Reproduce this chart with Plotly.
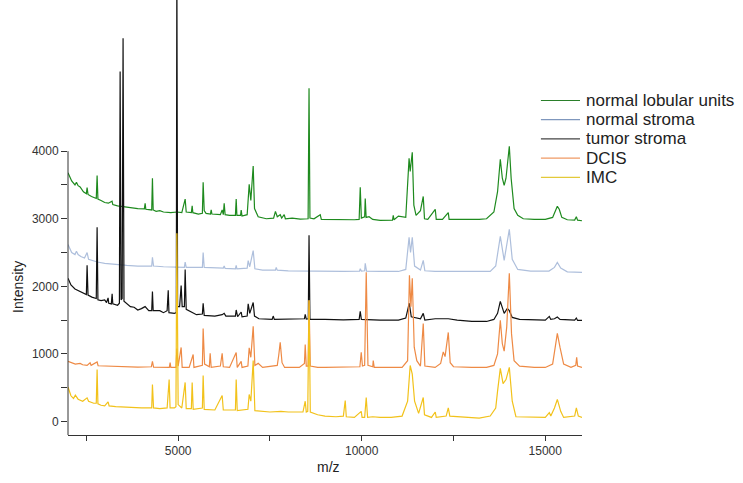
import plotly.graph_objects as go

series_names = ["normal lobular units", "normal stroma", "tumor stroma", "DCIS", "IMC"]
series_colors = ["#1e8a1e", "#aebfdc", "#111111", "#ee8a45", "#f2c21b"]
legend_colors = ["#2a7f2a", "#7f97bd", "#444444", "#ef9a64", "#e3c93a"]

lobular_mz = [2000, 2100, 2190, 2230, 2275, 2330, 2420, 2500, 2520, 2545, 2640, 2770, 2793, 2815, 2900,
              3000, 3100, 3200, 3220, 3350, 3500, 3700, 3900, 4080, 4101, 4120, 4280, 4300, 4320, 4400,
              4500, 4600, 4800, 4970, 5100, 5191, 5220, 5360, 5382, 5400, 5550, 5660, 5681, 5710, 5760,
              5880, 5900, 5920, 6150, 6199, 6230, 6254, 6280, 6400, 6560, 6581, 6600, 6700, 6717, 6740,
              6880, 6935, 6980, 7044, 7080, 7180, 7400, 7600, 7650, 7700, 7780, 7820, 7889, 7920, 8107,
              8325, 8540, 8565, 8590, 8700, 8870, 8900, 9200, 9500, 9800, 9930, 9960, 9990, 10080, 10096,
              10120, 10200, 10300, 10500, 10700, 10840, 10859, 10880, 11000, 11200, 11290, 11320, 11377,
              11420, 11480, 11540, 11600, 11676, 11710, 11800, 12003, 12030, 12200, 12358, 12380, 12600,
              12900, 13200, 13400, 13600, 13700, 13775, 13830, 13880, 13930, 14020, 14070, 14150, 14250,
              14400, 14700, 15000, 15200, 15280, 15328, 15380, 15450, 15600, 15800, 15846, 15880, 16000]
lobular_int = [3680, 3560, 3500, 3540, 3490, 3470, 3400, 3370, 3460, 3360, 3330, 3300, 3640, 3290, 3270,
               3240, 3230, 3260, 3210, 3190, 3180, 3160, 3150, 3145, 3230, 3140, 3130, 3600, 3130, 3110,
               3120, 3100, 3090, 3100, 3090, 3290, 3100, 3090, 3190, 3090, 3070, 3080, 3540, 3120, 3080,
               3070, 3130, 3070, 3060, 3130, 3060, 3230, 3060, 3050, 3050, 3290, 3050, 3050, 3130, 3040,
               3060, 3510, 3270, 3780, 3150, 3030, 3000, 3010, 3110, 3030, 3060, 3010, 3060, 3000, 3010,
               2995, 3000, 4930, 3010, 3000, 3060, 2990, 2985, 2985, 2985, 2990, 3466, 3010, 3030, 3300,
               3020, 3030, 2990, 2975, 2980, 2980, 3050, 2985, 3040, 3020, 3895, 3700, 3984,
               3200, 3050, 3080, 3120, 3330, 3000, 2990, 3140, 2990, 2990, 3090, 2990, 2990,
               2985, 2990, 3000, 3100, 3400, 3880, 3600, 3495, 3600, 4073, 3600, 3150, 3050,
               3000, 2990, 2990, 3020, 3140, 3184, 3140, 3020, 2985, 2980, 3030, 2980, 2970]

stroma_mz = [2000, 2100, 2190, 2230, 2275, 2350, 2450, 2520, 2560, 2700, 2800, 3000, 3300, 3600, 3900,
             4100, 4280, 4300, 4330, 4600, 4900, 5170, 5191, 5220, 5660, 5681, 5710, 6000, 6230, 6254,
             6280, 6560, 6581, 6600, 6700, 6880, 6908, 6950, 7044, 7090, 7300, 7650, 7671, 7700, 8000,
             8500, 9000, 9500, 9940, 9960, 9990, 10080, 10096, 10130, 10500, 11000, 11200, 11290, 11330,
             11377, 11440, 11600, 11676, 11720, 12000, 12500, 13000, 13500, 13650, 13775, 13880, 14020,
             14100, 14250, 14600, 15100, 15250, 15328, 15420, 15600, 16000]
stroma_int = [2620, 2500, 2470, 2520, 2470, 2440, 2420, 2500, 2400, 2370, 2360, 2340, 2320, 2310, 2300,
              2300, 2300, 2430, 2300, 2290, 2280, 2280, 2360, 2280, 2280, 2500, 2280, 2270, 2270, 2300,
              2265, 2260, 2310, 2260, 2260, 2270, 2380, 2290, 2530, 2260, 2240, 2240, 2280, 2240, 2230,
              2225, 2220, 2220, 2225, 2260, 2225, 2230, 2340, 2225, 2220, 2220, 2250, 2725, 2500,
              2725, 2300, 2240, 2384, 2230, 2220, 2220, 2215, 2220, 2300, 2740, 2384, 2843,
              2400, 2250, 2225, 2225, 2280, 2355, 2270, 2215, 2207]

tumor_mz = [2000, 2080, 2190, 2275, 2400, 2500, 2520, 2545, 2650, 2770, 2793, 2815, 2900, 3000, 3050,
            3092, 3110, 3180, 3202, 3220, 3350, 3400, 3420, 3445, 3475, 3500, 3525, 3600, 3700, 3800,
            3900, 4000, 4100, 4200, 4280, 4300, 4320, 4500, 4600, 4700, 4730, 4750, 4900, 4950, 4965,
            4985, 5040, 5082, 5110, 5170, 5191, 5220, 5350, 5500, 5660, 5681, 5710, 6000, 6199, 6254,
            6300, 6560, 6581, 6620, 6717, 6740, 6880, 6908, 6950, 7044, 7080, 7200, 7560, 7589, 7620,
            8000, 8440, 8461, 8490, 8545, 8565, 8590, 8800, 9000, 9500, 9930, 9960, 9990, 10500, 11000,
            11200, 11295, 11350, 11600, 11676, 11720, 12003, 12358, 12600, 13000, 13400, 13600, 13700,
            13775, 13880, 13966, 14020, 14100, 14300, 14700, 15000, 15110, 15150, 15250, 15328, 15400,
            15800, 15846, 15880, 16000]
tumor_int = [2120, 2020, 1960, 1940, 1900, 1880, 2310, 1870, 1840, 1820, 2873, 1800, 1790, 1800, 1760,
             1830, 1750, 1740, 1890, 1740, 1720, 1750, 5180, 1800, 1820, 5670, 1780, 1750, 1700, 1690,
             1650, 1670, 1700, 1640, 1640, 1925, 1640, 1640, 1610, 1640, 1940, 1610, 1600, 1610, 6800,
             1700, 1700, 2010, 1700, 1700, 2250, 1660, 1620, 1580, 1590, 1750, 1570, 1560, 1580, 1600,
             1560, 1560, 1650, 1550, 1620, 1550, 1560, 1740, 1600, 1760, 1560, 1520, 1510, 1560, 1510,
             1515, 1520, 1585, 1515, 1520, 2755, 1510, 1505, 1510, 1505, 1510, 1630, 1510, 1500, 1500,
             1530, 1750, 1550, 1520, 1600, 1500, 1520, 1520, 1500, 1480, 1480, 1510, 1600,
             1777, 1600, 1673, 1640, 1540, 1510, 1500, 1500, 1555, 1510, 1520, 1545, 1510,
             1500, 1530, 1495, 1495]

dcis_mz = [2000, 2100, 2200, 2330, 2400, 2520, 2602, 2630, 2793, 2820, 3000, 3300, 3600, 3900, 4270,
           4300, 4330, 4500, 4760, 4782, 4800, 4940, 4965, 5000, 5082, 5110, 5300, 5409, 5430, 5660,
           5681, 5720, 5850, 5872, 5900, 6150, 6199, 6230, 6400, 6581, 6610, 6717, 6740, 6900, 6935,
           6980, 7044, 7090, 7180, 7300, 7700, 7740, 7780, 7830, 7900, 8300, 8440, 8461, 8490, 8540,
           8565, 8600, 8800, 9000, 9300, 9600, 9950, 9987, 10020, 10080, 10123, 10170, 10300, 10314,
           10340, 10700, 11100, 11250, 11300, 11340, 11377, 11430, 11500, 11600, 11676, 11720, 12000,
           12150, 12221, 12270, 12358, 12410, 12500, 13000, 13400, 13600, 13700, 13775, 13830, 13880,
           13950, 14020, 14080, 14150, 14300, 14700, 15000, 15200, 15280, 15328, 15400, 15500, 15700,
           15830, 15855, 15880, 16000]
dcis_int = [890, 870, 850, 860, 840, 830, 870, 830, 880, 825, 820, 815, 810, 805, 810,
            890, 805, 800, 800, 870, 800, 800, 1080, 820, 1096, 800, 800, 992, 800, 830,
            1377, 850, 810, 1010, 800, 820, 1010, 810, 800, 1022, 800, 890, 800, 820, 1090,
            950, 1407, 830, 860, 800, 830, 980, 1170, 870, 800, 800, 860, 1140, 820, 820,
            1792, 820, 800, 800, 800, 800, 810, 1022, 820, 830, 2207, 830, 810, 900,
            800, 800, 800, 900, 2162, 1700, 2118, 1100, 900, 820, 1451, 820, 800,
            860, 1030, 960, 1318, 870, 810, 800, 800, 830, 1000, 1496, 1150, 1040,
            1400, 2192, 1300, 900, 820, 800, 800, 850, 1150, 1303, 1100, 850, 800,
            830, 950, 820, 800]

imc_mz = [2000, 2080, 2150, 2200, 2275, 2400, 2520, 2560, 2700, 2770, 2793, 2815, 2900, 3000, 3092,
          3120, 3300, 3600, 3800, 4000, 4280, 4300, 4330, 4500, 4700, 4755, 4780, 4900, 4940, 4965,
          5000, 5100, 5191, 5220, 5360, 5382, 5410, 5660, 5681, 5710, 6000, 6199, 6230, 6560, 6581,
          6610, 6900, 6935, 6980, 7044, 7090, 7300, 7500, 7800, 8000, 8400, 8461, 8490, 8530, 8565,
          8600, 8800, 9000, 9300, 9500, 9551, 9580, 9800, 9987, 10010, 10080, 10123, 10160, 10300,
          10500, 10800, 11100, 11250, 11320, 11377, 11440, 11550, 11676, 11710, 11900, 12003, 12030,
          12300, 12358, 12400, 12800, 13200, 13500, 13650, 13700, 13775, 13850, 13930, 14020, 14100,
          14200, 14600, 15000, 15110, 15150, 15250, 15328, 15420, 15500, 15800, 15846, 15900, 16000]
imc_int = [510, 380, 340, 390, 330, 300, 350, 300, 270, 270, 770, 260, 240, 230, 290,
           230, 220, 210, 200, 200, 200, 548, 200, 190, 200, 622, 200, 200, 220, 2784,
           250, 200, 578, 190, 190, 578, 180, 200, 681, 180, 170, 385, 170, 170, 622,
           160, 180, 400, 300, 903, 160, 150, 140, 150, 140, 140, 300, 140, 150, 1792,
           140, 100, 80, 70, 80, 311, 70, 60, 150, 60, 60, 355, 60, 70,
           60, 60, 80, 300, 829, 700, 300, 120, 355, 100, 60, 140, 60,
           80, 200, 80, 60, 50, 80, 200, 450, 785, 560, 620, 800, 300,
           70, 60, 60, 130, 80, 200, 326, 150, 60, 80, 200, 80, 60]

xs = [lobular_mz, stroma_mz, tumor_mz, dcis_mz, imc_mz]
ys = [lobular_int, stroma_int, tumor_int, dcis_int, imc_int]

x_ticks = [5000, 10000, 15000]
x_minor = [2500, 7500, 12500]
y_ticks = [0, 1000, 2000, 3000, 4000]
y_minor = [500, 1500, 2500, 3500]

fig = go.Figure()
for name, color, x, y in zip(series_names, series_colors, xs, ys):
    fig.add_trace(go.Scatter(x=x, y=y, mode="lines", name=name,
                             line=dict(color=color, width=1.2), showlegend=False,
                             hoverinfo="skip"))

axis_col = "#333333"
PW, PH = 513, 435
fig.update_layout(
    width=743, height=483,
    margin=dict(l=68, r=161, t=0, b=48),
    plot_bgcolor="white", paper_bgcolor="white",
    font=dict(family="Liberation Sans, Arial, sans-serif", color="#222"),
    xaxis=dict(range=[2000, 16000], tickvals=x_ticks, tickformat="d", ticks="outside", ticklen=5,
               tickcolor=axis_col, showline=True, linecolor=axis_col, linewidth=1,
               showgrid=False, zeroline=False, tickfont=dict(size=12, color="#333"),
               minor=dict(tickvals=x_minor, ticks="outside", ticklen=5, tickcolor=axis_col)),
    yaxis=dict(range=[-200, 6237], tickvals=y_ticks, ticks="outside", ticklen=6,
               tickcolor=axis_col, showline=False, showgrid=False, zeroline=False,
               tickfont=dict(size=12, color="#333"),
               minor=dict(tickvals=y_minor, ticks="outside", ticklen=6, tickcolor=axis_col)),
)

fig.add_shape(type="line", xref="paper", yref="y", x0=0, x1=0, y0=-200, y1=4000,
              line=dict(color=axis_col, width=1))

fig.add_annotation(text="Intensity", xref="paper", yref="paper", x=(18 - 68) / PW, y=1 - 287 / PH,
                   textangle=-90, showarrow=False, font=dict(size=14, color="#222"),
                   xanchor="center", yanchor="middle")
fig.add_annotation(text="m/z", xref="paper", yref="paper", x=(328 - 68) / PW, y=-32 / PH,
                   showarrow=False, font=dict(size=14, color="#222"),
                   xanchor="center", yanchor="middle")

# legend
for i, (name, color) in enumerate(zip(series_names, legend_colors)):
    yy = 1 - (100.5 + i * 19.2) / PH
    fig.add_shape(type="line", xref="paper", yref="paper",
                  x0=(540 - 68) / PW, x1=(579 - 68) / PW, y0=yy, y1=yy,
                  line=dict(color=color, width=1.2))
    fig.add_annotation(text=name, xref="paper", yref="paper", x=(583 - 68) / PW, y=yy,
                       xanchor="left", yanchor="middle", showarrow=False,
                       font=dict(size=17, color="#222"))

fig.write_html("out.html", config={"displayModeBar": False},
               post_script="document.body.style.margin='0';")
